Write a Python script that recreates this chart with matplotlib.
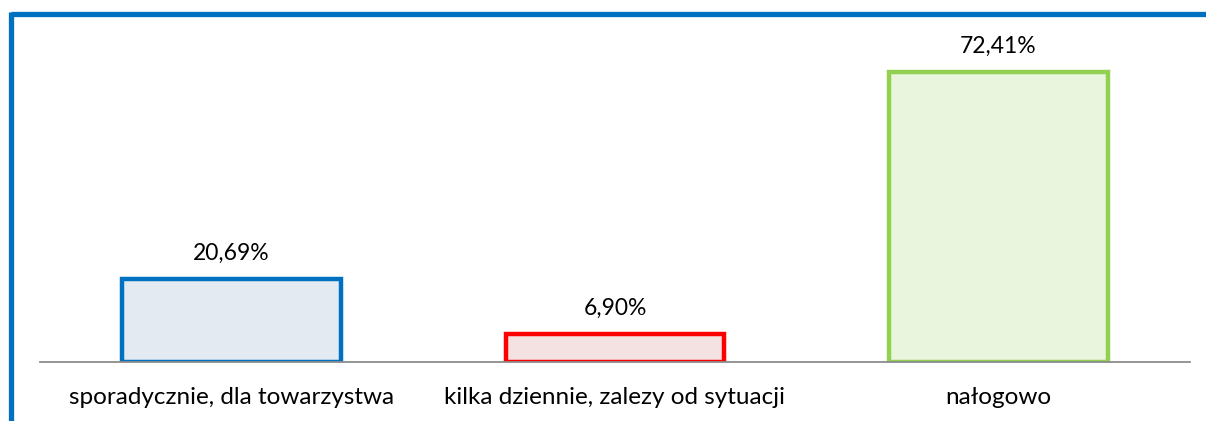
import matplotlib
matplotlib.use("Agg")
import matplotlib.pyplot as plt
from matplotlib.lines import Line2D

categories = ["sporadycznie, dla towarzystwa", "kilka dziennie, zalezy od sytuacji", "nałogowo"]
values = [20.69, 6.90, 72.41]
labels = ["20,69%", "6,90%", "72,41%"]
edge_colors = ["#0070C0", "#FF0000", "#92D050"]
fill_colors = ["#E3EAF2", "#F4E2E2", "#EAF5DE"]

plt.rcParams['font.family'] = ['Lato', 'DejaVu Sans']

fig = plt.figure(figsize=(12.06, 4.21), dpi=100)
ax = fig.add_axes([40 / 1206, 59 / 421, 1150 / 1206, 320 / 421])

x = range(len(categories))
bars = ax.bar(x, values, width=0.57, color=fill_colors, edgecolor=edge_colors,
              linewidth=3.2, zorder=3)
for b, lab in zip(bars, labels):
    ax.annotate(lab, (b.get_x() + b.get_width() / 2, b.get_height()),
                xytext=(0, 19), textcoords="offset points",
                ha="center", va="center", fontsize=16.5, color="#000000")

ax.set_xlim(-0.5, 2.5)
ax.set_ylim(0, 80)
ax.set_xticks(list(x))
ax.set_xticklabels(categories, fontsize=17.5)
ax.tick_params(axis="x", length=0, pad=18)
ax.set_yticks([])
for s in ["top", "right", "left"]:
    ax.spines[s].set_visible(False)
ax.spines["bottom"].set_color("#8C8C8C")
ax.spines["bottom"].set_linewidth(1.3)
ax.spines["bottom"].set_zorder(4)

# blue frame on top and left
fig.add_artist(Line2D([10.5 / 1206, 1], [1 - 14 / 421, 1 - 14 / 421],
                      transform=fig.transFigure, color="#0070C0", linewidth=3.8,
                      solid_capstyle="butt"))
fig.add_artist(Line2D([10.5 / 1206, 10.5 / 1206], [1 - 12 / 421, 0],
                      transform=fig.transFigure, color="#0070C0", linewidth=3.8,
                      solid_capstyle="butt"))

fig.savefig("out.png", dpi=100)
